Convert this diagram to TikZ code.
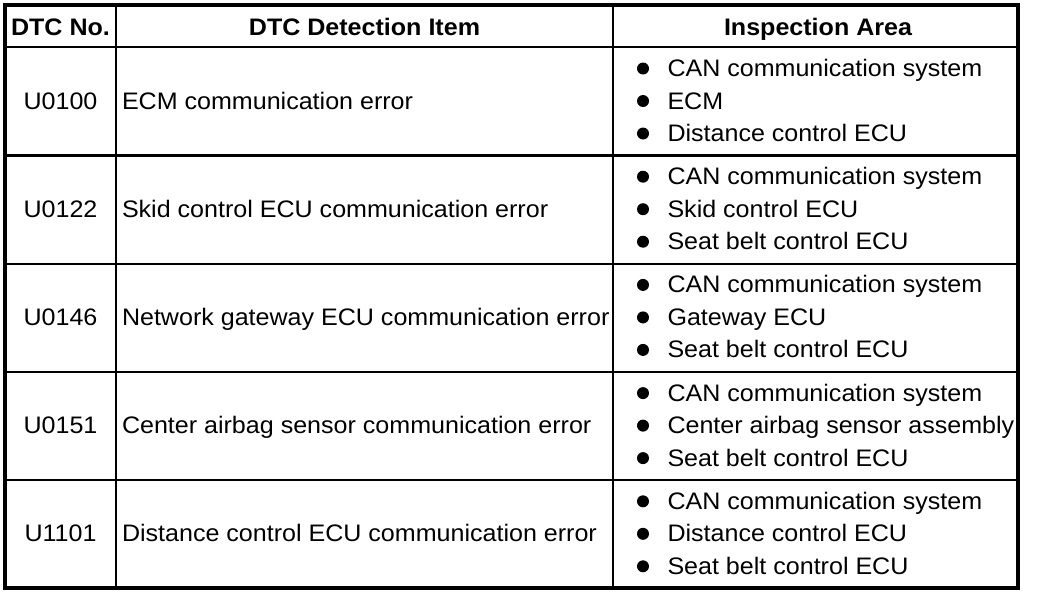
\documentclass[tikz,border=0pt]{standalone}
\usepackage{fontspec}
\setmainfont[FakeStretch=1.05]{Liberation Sans}
\begin{document}
\begin{tikzpicture}[x=0.75pt,y=-0.75pt,
  txt/.style={inner sep=0pt,outer sep=0pt,font=\fontsize{17.9pt}{20pt}\selectfont},
  hdr/.style={txt,font=\fontsize{17.9pt}{20pt}\selectfont\bfseries,anchor=base},
  code/.style={txt,anchor=base},
  item/.style={txt,anchor=base west},
  inner/.style={line width=1.9pt},
  outer/.style={line width=3.4pt}]
\useasboundingbox (0,0) rectangle (1056,596);
% grid
\foreach \y in {155.6,264,372,480} \draw[inner] (5,\y) -- (1018,\y);
\draw[line width=2.2pt] (5,47) -- (1018,47);
\draw[inner] (116,5) -- (116,588);
\draw[inner] (613,5) -- (613,588);
\draw[outer] (5,5) rectangle (1018,588);
% header
\node[hdr] (h1) at (60.5,35) {DTC No.};
\node[hdr] (h2) at (364.5,35) {DTC Detection Item};
\node[hdr] (h3) at (818,35) {Inspection Area};
% rows
\foreach \i/\c/\d/\a/\b/\e in {
  0/U0100/ECM communication error/CAN communication system/ECM/Distance control ECU,
  1/U0122/Skid control ECU communication error/CAN communication system/Skid control ECU/Seat belt control ECU,
  2/U0146/Network gateway ECU communication error/CAN communication system/Gateway ECU/Seat belt control ECU,
  3/U0151/Center airbag sensor communication error/CAN communication system/Center airbag sensor assembly/Seat belt control ECU,
  4/U1101/Distance control ECU communication error/CAN communication system/Distance control ECU/Seat belt control ECU}{
  \pgfmathsetmacro{\yb}{47+108.2*\i+62}
  \node[code] (c\i) at (60.5,\yb) {\c};
  \node[item] (d\i) at (122,\yb) {\d};
  \node[item] (a\i) at (667.5,\yb-32.5) {\a};
  \node[item] (b\i) at (667.5,\yb) {\b};
  \node[item] (e\i) at (667.5,\yb+32.5) {\e};
  \foreach \k in {-32.5,0,32.5}
    \fill (643,\yb+\k-8) circle[radius=6];
}
\end{tikzpicture}
\end{document}
